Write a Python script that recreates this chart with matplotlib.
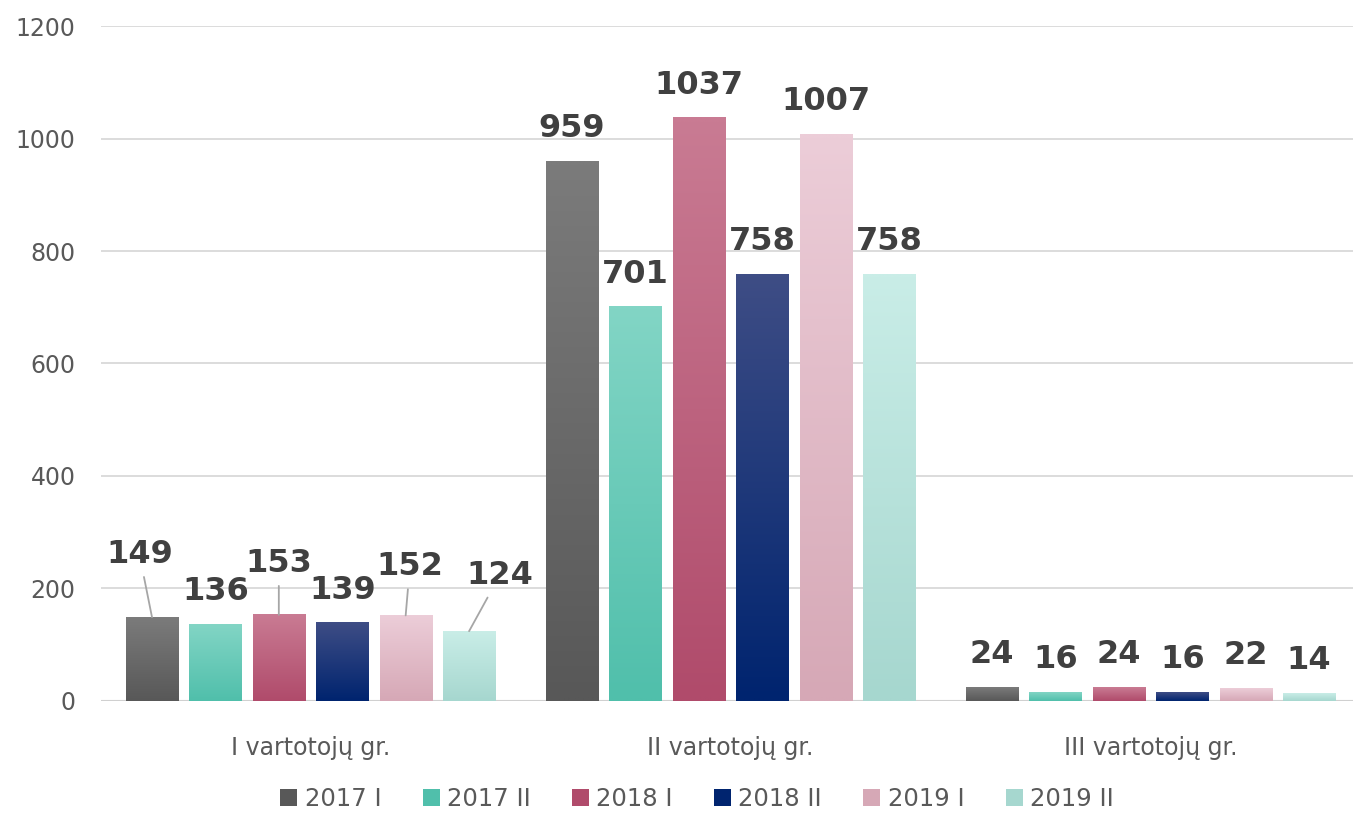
import numpy as np
import matplotlib
matplotlib.use("Agg")
import matplotlib.pyplot as plt
from matplotlib.colors import to_rgb
from matplotlib.patches import Patch

groups = ["I vartotojų gr.", "II vartotojų gr.", "III vartotojų gr."]
series = ["2017 I", "2017 II", "2018 I", "2018 II", "2019 I", "2019 II"]
v2017_1 = [149, 959, 24]
v2017_2 = [136, 701, 16]
v2018_1 = [153, 1037, 24]
v2018_2 = [139, 758, 16]
v2019_1 = [152, 1007, 22]
v2019_2 = [124, 758, 14]
values = [v2017_1, v2017_2, v2018_1, v2018_2, v2019_1, v2019_2]

# (top colour, bottom colour) of each series' gradient
grads = [("#7b7b7b", "#585858"),
         ("#82d5c5", "#50bfab"),
         ("#c97b93", "#b04b6b"),
         ("#3e4d85", "#00246f"),
         ("#eccdd8", "#d6a8b6"),
         ("#c9ede7", "#a6d7cf")]

# label offsets (points) for group I labels that use leader lines
lead = {0: (-9, 45), 2: (0, 37), 4: (3, 35), 5: (22, 40)}

plt.rcParams['font.family'] = ['DejaVu Sans']
fig = plt.figure(figsize=(13.53, 8.15), dpi=100)
ax = fig.add_axes([0.0743, 0.14, 0.9257, 0.828])

x = np.arange(len(groups))
pitch = 0.151
width = 0.124
txtc = "#404040"

for i, (name, vals) in enumerate(zip(series, values)):
    pos = x + (i - 2.5) * pitch
    bars = ax.bar(pos, vals, width, color="none", edgecolor="none", zorder=2)
    top, bot = np.array(to_rgb(grads[i][0])), np.array(to_rgb(grads[i][1]))
    t = np.linspace(0, 1, 64)[:, None]
    img = (bot * (1 - t) + top * t)[:, None, :]
    for j, b in enumerate(bars):
        x0, h = b.get_x(), b.get_height()
        ax.imshow(img, extent=[x0, x0 + b.get_width(), 0, h], origin="lower",
                  aspect="auto", zorder=2, interpolation="bilinear")
        cx = x0 + b.get_width() / 2
        if j == 0 and i in lead:
            dx, dy = lead[i]
            ax.annotate(str(vals[j]), xy=(cx, h), xytext=(dx, dy),
                        textcoords="offset points", ha="center", va="center",
                        fontsize=23, fontweight="bold", color=txtc, zorder=4,
                        arrowprops=dict(arrowstyle="-", color="#a6a6a6", lw=1.3,
                                        shrinkA=3, shrinkB=0))
        else:
            ax.annotate(str(vals[j]), xy=(cx, h), xytext=(0, 23.5),
                        textcoords="offset points", ha="center", va="center",
                        fontsize=23, fontweight="bold", color=txtc, zorder=4)

ax.set_xlim(-0.5, 2.482)
ax.set_ylim(0, 1200)
ax.set_yticks(np.arange(0, 1201, 200))
ax.set_xticks(x)
ax.set_xticklabels(groups)
ax.tick_params(axis="both", length=0, labelsize=17, labelcolor="#595959")
ax.tick_params(axis="x", pad=25)
ax.tick_params(axis="y", pad=18)
ax.grid(axis="y", color="#d9d9d9", lw=1.3, zorder=0)
ax.set_axisbelow(True)
for s in ax.spines.values():
    s.set_visible(False)
ax.axhline(0, color="#d0d0d0", lw=1.5, zorder=1)

handles = [Patch(facecolor=g[1], edgecolor="none") for g in grads]
fig.legend(handles, series, loc="center", bbox_to_anchor=(697 / 1353, 16 / 815),
           ncol=6, frameon=False, fontsize=17.5, labelcolor="#595959",
           handlelength=0.7, handleheight=0.7, handletextpad=0.3, columnspacing=1.7)

fig.savefig("out.png", dpi=100)
